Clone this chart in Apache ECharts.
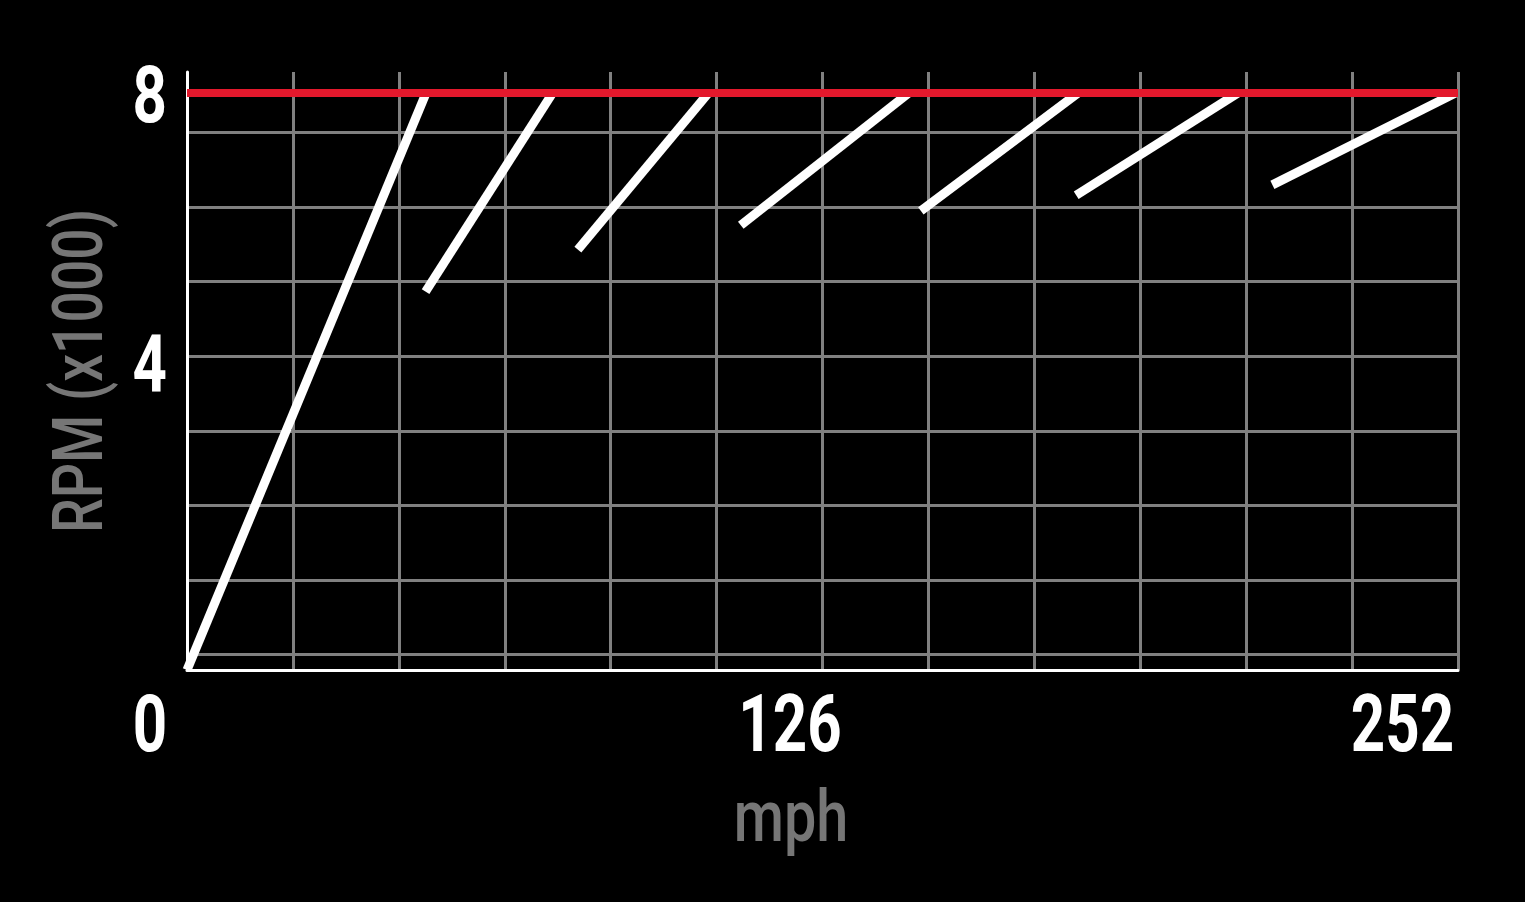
<!DOCTYPE html>
<html>
<head>
<meta charset="utf-8">
<script src="https://cdn.jsdelivr.net/npm/echarts@6/dist/echarts.min.js"></script>
<style>
html,body{margin:0;padding:0;background:#000;}
#chart{width:1525px;height:902px;}
</style>
</head>
<body>
<div id="chart"></div>
<script>
// ---- data ----
const gears = ['1', '2', '3', '4', '5', '6', '7'];
const gearStartMph = [0, 47.3, 77.5, 109.8, 145.5, 176.3, 215.2];
const gearStartRpm = [0, 5245, 5828, 6166, 6364, 6582, 6725];
const gearEndMph = [47.4, 72.5, 103.4, 143.1, 176.7, 208.4, 251.5];
const gearEndRpm = [8000, 8000, 8000, 8000, 8000, 8000, 8000];
const redlineRpm = 8000;
const xTickLabels = [0, 126, 252];
const yTickLabels = [4, 8];
const xTitle = 'mph';
const yTitle = 'RPM (x1000)';
const xMax = 252;
const xGridStep = 21;
const yMax = 8290;

const FONT = "Roboto, 'Liberation Sans', sans-serif";
const GRID_GRAY = '#808080';
const TITLE_GRAY = '#767676';

const chart = echarts.init(document.getElementById('chart'));

const gearSeries = gears.map((g, i) => ({
  name: 'Gear ' + g,
  type: 'line',
  xAxisIndex: 0,
  yAxisIndex: 0,
  symbol: 'none',
  z: 3,
  silent: true,
  lineStyle: { color: '#ffffff', width: 9, cap: 'butt' },
  data: [[gearStartMph[i], gearStartRpm[i]], [gearEndMph[i], gearEndRpm[i]]]
}));

chart.setOption({
  backgroundColor: '#000000',
  animation: false,
  grid: [
    { left: 187, right: 67, top: 72, bottom: 232 },
    { left: 189, right: 68, top: 132.5, bottom: 247.5 }
  ],
  xAxis: [
    {
      type: 'value', gridIndex: 0, min: 0, max: xMax, interval: xGridStep,
      axisLine: { show: true, lineStyle: { color: '#ffffff', width: 3 } },
      axisTick: { show: false },
      splitLine: { show: true, showMinLine: false, lineStyle: { color: GRID_GRAY, width: 3 } },
      axisLabel: { show: false }
    },
    { type: 'value', gridIndex: 1, min: 0, max: 1, show: false }
  ],
  yAxis: [
    {
      type: 'value', gridIndex: 0, min: 0, max: yMax, z: 1,
      axisLine: { show: true, lineStyle: { color: '#ffffff', width: 3 } },
      axisTick: { show: false },
      splitLine: { show: false },
      axisLabel: { show: false }
    },
    {
      type: 'value', gridIndex: 1, min: 0, max: 7, interval: 1,
      axisLine: { show: false }, axisTick: { show: false }, axisLabel: { show: false },
      splitLine: { show: true, lineStyle: { color: GRID_GRAY, width: 3 } }
    }
  ],
  series: gearSeries.concat([{
    name: 'Redline',
    type: 'line',
    xAxisIndex: 0, yAxisIndex: 0,
    symbol: 'none', z: 4, silent: true,
    lineStyle: { color: '#e3182c', width: 8, cap: 'butt' },
    data: [[0, redlineRpm], [xMax, redlineRpm]]
  }])
});

// ---- condensed tick labels & titles, positioned through the axes ----
const px = v => chart.convertToPixel({ xAxisIndex: 0 }, v);
const py = v => chart.convertToPixel({ yAxisIndex: 0 }, v);
const x0 = px(0), xEnd = px(xMax), yBase = py(0), yTop = py(yMax);

const xLabelShift = { 0: -37, 126: -32.5, 252: -55.5 };
const yLabelShift = { 4: -10, 8: 9 };
const labelFont = "bold 80px " + FONT;
const graphics = [];
xTickLabels.forEach(v => {
  graphics.push({
    type: 'text', silent: true, z: 10,
    x: px(v) + xLabelShift[v], y: yBase + 61, scaleX: 0.75,
    style: { text: String(v), fill: '#ffffff', font: labelFont, textAlign: 'center', textVerticalAlign: 'middle' }
  });
});
yTickLabels.forEach(v => {
  graphics.push({
    type: 'text', silent: true, z: 10,
    x: x0 - 20, y: py(v * 1000) + yLabelShift[v], scaleX: 0.75,
    style: { text: String(v), fill: '#ffffff', font: labelFont, textAlign: 'right', textVerticalAlign: 'middle' }
  });
});
graphics.push({
  type: 'text', silent: true, z: 10,
  x: (x0 + xEnd) / 2 - 31.5, y: yBase + 153, scaleX: 0.8,
  style: { text: xTitle, fill: TITLE_GRAY, font: "500 72px " + FONT, textAlign: 'center', textVerticalAlign: 'middle' }
});
graphics.push({
  type: 'text', silent: true, z: 10,
  x: x0 - 103, y: (yBase + yTop) / 2, rotation: Math.PI / 2, scaleX: 0.79,
  style: { text: yTitle, fill: TITLE_GRAY, font: "500 70px " + FONT, textAlign: 'center', textVerticalAlign: 'middle' }
});
chart.setOption({ graphic: graphics });
</script>
</body>
</html>
